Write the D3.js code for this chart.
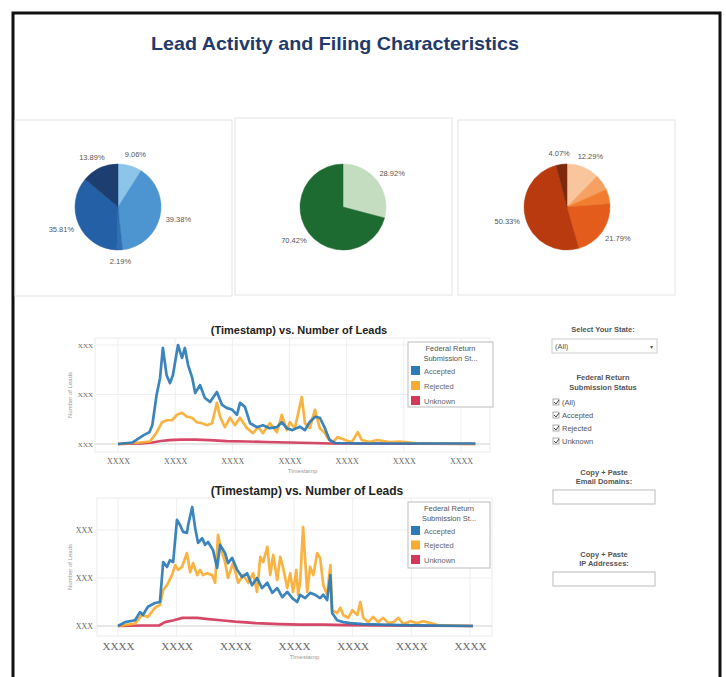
<!DOCTYPE html>
<html>
<head>
<meta charset="utf-8">
<script src="https://cdn.jsdelivr.net/npm/d3@7"></script>
<style>
  body { margin: 0; background: #fff; }
  svg { font-family: "Liberation Sans", Arial, sans-serif; }
</style>
</head>
<body>
<svg id="dash" width="726" height="677"></svg>
<script>
// Pie data (clockwise from 12 o'clock)
var pie1Values = [9.06, 39.38, 2.19, 35.81, 13.89];
var pie1Colors = ["#8dc4ea", "#4c95d0", "#2f6fb2", "#2360a6", "#1d3e70"];
var pie1Shown = [true, true, true, true, true];

var pie2Values = [28.92, 70.42];
var pie2Colors = ["#c4dcc0", "#1e6b32"];
var pie2Shown = [true, true];

var pie3Values = [12.29, 6.0, 5.52, 21.79, 50.33, 4.07];
var pie3Colors = ["#f8c59d", "#f6a163", "#f17e30", "#e35c1c", "#b93a0e", "#7d2a0c"];
var pie3Shown = [true, false, false, true, true, true];

// Line chart data: [day, number of leads]
var seriesNames = ["Accepted", "Rejected", "Unknown"];
var seriesColors = ["#2a7bb6", "#f8ad32", "#d3385b"];

var accepted1 = [[0,0],[5,3],[9,18],[11,24],[12,38],[13.5,99],[14.7,133],[15.7,194],[17,139],
  [18.2,123],[19.2,139],[21,200],[22.4,174],[23.4,194],[24.5,160],[26,133],[27,103],[28.7,119],
  [30.4,93],[32.2,85],[34.6,105],[36.4,79],[38,73],[40,69],[41.6,59],[42.7,83],[44.4,75],
  [46.2,42],[48.6,34],[50.7,38],[53,32],[55.6,34],[57.3,44],[59,32],[61,28],[63.6,35],
  [65.4,28],[67,44],[69,55],[70.6,53],[72.4,32],[74,8],[76,2],[85,1],[100,1],[115,1],[125,1]];
var rejected1 = [[0,0],[7.7,3],[11.2,5],[13.6,24],[15.4,44],[17.1,48],[18.9,48],[20.6,59],
  [22.4,63],[24.1,55],[25.9,53],[27.6,44],[29.4,42],[31.1,38],[32.9,42],[34.6,83],[35.7,55],
  [37.4,34],[39.2,53],[40.9,38],[42.7,53],[45.1,32],[47.2,22],[49,34],[50.7,22],[53.1,42],
  [55.6,24],[57.3,59],[59.1,28],[60.1,44],[61.9,32],[64.3,95],[65.4,42],[67.1,32],[68.9,69],
  [70.6,32],[72.4,22],[73.4,12],[75.2,4],[76.9,14],[79.4,8],[81.8,4],[83.9,24],[85.3,8],
  [88.1,4],[90.6,8],[95.1,4],[98.6,5],[102,3],[105.6,1],[109,1],[125,0]];
var unknown1 = [[0,0],[8,1],[12,3],[15,6],[18,8],[22,9],[27,9],[32,8],[38,6],[45,5],[52,4],
  [60,3],[68,2],[75,1],[85,1],[125,0]];

var accepted2 = [[0,0],[2.4,8],[5.8,12],[7.5,29],[8.5,23],[10.2,40],[12.6,48],[14.3,50],
  [15.4,133],[16.7,123],[17.7,137],[18.8,133],[20.1,221],[21.2,210],[22.2,196],[23.5,194],
  [23.9,210],[25.3,248],[26.3,204],[27.3,173],[28.7,183],[29.7,169],[30.7,175],[32.4,158],
  [33.8,121],[34.8,169],[36.5,152],[37.5,131],[38.9,142],[40.6,117],[42.3,102],[44,110],
  [45.7,85],[47.4,100],[49.1,79],[50.9,90],[52.6,69],[54.3,79],[56,60],[57.7,71],[59.4,58],
  [61.1,50],[62.1,65],[63.8,58],[65.5,69],[67.2,65],[68.9,58],[70,65],[71.3,54],[72.4,106],
  [73,27],[74.7,12],[76.8,8],[79.2,6],[83.6,4],[96.2,2],[121,0]];
var rejected2 = [[0,0],[5.8,5],[8.2,23],[10.2,19],[12.6,38],[14.3,44],[15.4,75],[16.7,85],
  [18.4,106],[19.5,127],[20.5,117],[21.8,123],[23.5,152],[24.6,112],[25.6,131],[27,106],
  [28,117],[29,106],[30.4,110],[32.1,106],[33.1,90],[34.1,190],[35.2,158],[36.5,133],[37.5,100],
  [39.2,131],[41,90],[42.7,106],[44.4,90],[46.1,110],[47.4,71],[48.5,144],[49.5,133],[50.9,165],
  [51.9,106],[52.9,148],[54.3,96],[55.3,144],[56.3,121],[57.7,79],[58.7,110],[59.7,71],
  [60.8,117],[61.4,65],[62.1,92],[63.1,206],[64.5,71],[65.5,123],[66.6,106],[67.9,152],
  [68.9,142],[70,85],[71.3,65],[72.4,127],[73,33],[74.7,27],[75.8,38],[76.8,23],[78.5,17],
  [79.9,33],[81.6,23],[82.6,50],[83.6,17],[85.3,8],[87,19],[88.7,8],[90.4,17],[92.2,6],
  [93.9,8],[95.6,17],[97.3,4],[99.7,10],[102,6],[104,10],[106.5,6],[108.9,2],[113,1],[121,0]];
var unknown2 = [[0,0],[8,1],[14,1],[16,8],[19,12],[22,17],[27,17],[30,15],[35,12],[40,9],
  [47,6],[55,4],[62,3],[70,3],[78,2],[90,1],[121,0]];

var xTickValues = [0, 20, 40, 60, 80, 100, 120];
var xTickLabels = ["XXXX", "XXXX", "XXXX", "XXXX", "XXXX", "XXXX", "XXXX"];
var yTickValues = [0, 100, 200];
var yTickLabels = ["XXX", "XXX", "XXX"];

var stateOptions = ["(All)"];
var statusOptions = ["(All)", "Accepted", "Rejected", "Unknown"];

var svg = d3.select("#dash");

///////////////////////////////////////////////////////////////////////////////
// Frame and title
///////////////////////////////////////////////////////////////////////////////

svg.append("rect")
  .attr("x", 13).attr("y", 13).attr("width", 707).attr("height", 680)
  .attr("fill", "none").attr("stroke", "#111").attr("stroke-width", 3);

svg.append("text")
  .attr("x", 335).attr("y", 50)
  .attr("text-anchor", "middle")
  .attr("font-size", 19).attr("font-weight", "bold")
  .attr("textLength", 368).attr("lengthAdjust", "spacingAndGlyphs")
  .attr("fill", "#1f3a6b")
  .text("Lead Activity and Filing Characteristics");

///////////////////////////////////////////////////////////////////////////////
// Pies
///////////////////////////////////////////////////////////////////////////////

function drawPie (panel, center, values, colors, shown) {
  svg.append("rect")
    .attr("x", panel[0]).attr("y", panel[1])
    .attr("width", panel[2]).attr("height", panel[3])
    .attr("fill", "none").attr("stroke", "#e4e4e4");

  var g = svg.append("g").attr("transform", "translate(" + center[0] + "," + center[1] + ")");
  var arcs = d3.pie().sort(null)(values);
  var arc = d3.arc().innerRadius(0).outerRadius(43);
  var labelArc = d3.arc().innerRadius(62).outerRadius(62);

  g.selectAll("path").data(arcs).enter().append("path")
    .attr("d", arc)
    .attr("fill", function (d, i) { return colors[i]; })
    .attr("stroke", function (d, i) { return colors[i]; })
    .attr("stroke-width", 0.5);

  g.selectAll("text").data(arcs.filter(function (d, i) { return shown[i]; }))
    .enter().append("text")
    .attr("transform", function (d) {
      var c = labelArc.centroid(d);
      // tableau keeps labels a little closer above/below the pie
      return "translate(" + c[0] + "," + (c[1] * 0.88) + ")";
    })
    .attr("text-anchor", "middle")
    .attr("dy", "0.35em")
    .attr("font-size", 7.5).attr("fill", "#555")
    .text(function (d) { return d3.format(".2f")(d.data) + "%"; });
}

drawPie([15, 120, 217, 176], [118, 207], pie1Values, pie1Colors, pie1Shown);
drawPie([235, 118, 217, 177], [343, 207], pie2Values, pie2Colors, pie2Shown);
drawPie([458, 120, 217, 175], [567, 207], pie3Values, pie3Colors, pie3Shown);

///////////////////////////////////////////////////////////////////////////////
// Line charts
///////////////////////////////////////////////////////////////////////////////

function drawLines (cfg) {
  var x = d3.scaleLinear().domain([0, 120]).range(cfg.xRange);
  var y = d3.scaleLinear().domain([0, 200]).range(cfg.yRange);
  var g = svg.append("g");

  // plot frame + grid
  g.append("rect")
    .attr("x", cfg.plot[0]).attr("y", cfg.plot[1])
    .attr("width", cfg.plot[2] - cfg.plot[0]).attr("height", cfg.plot[3] - cfg.plot[1])
    .attr("fill", "none").attr("stroke", "#ececec");

  g.selectAll(".vgrid").data(xTickValues).enter().append("line")
    .attr("x1", x).attr("x2", x)
    .attr("y1", cfg.plot[1]).attr("y2", cfg.plot[3])
    .attr("stroke", "#efefef");

  g.selectAll(".hgrid").data(yTickValues).enter().append("line")
    .attr("x1", cfg.plot[0]).attr("x2", cfg.plot[2])
    .attr("y1", y).attr("y2", y)
    .attr("stroke", function (d) { return d === 0 ? "#d0d0d0" : "#efefef"; });

  // axes (text only, tableau style)
  var xAxis = d3.axisBottom(x).tickValues(xTickValues).tickSize(0)
    .tickFormat(function (d, i) { return xTickLabels[i]; });
  var xg = g.append("g")
    .attr("transform", "translate(0," + cfg.xAxisY + ")")
    .call(xAxis);
  xg.select(".domain").remove();
  xg.selectAll("text")
    .attr("font-family", "'Liberation Serif', serif")
    .attr("font-size", cfg.xFont).attr("fill", "#666");

  var yAxis = d3.axisLeft(y).tickValues(yTickValues).tickSize(0)
    .tickFormat(function (d, i) { return yTickLabels[i]; });
  var yg = g.append("g")
    .attr("transform", "translate(" + cfg.yAxisX + ",0)")
    .call(yAxis);
  yg.select(".domain").remove();
  yg.selectAll("text")
    .attr("font-family", "'Liberation Serif', serif")
    .attr("font-size", cfg.yFont).attr("fill", "#666");

  g.append("text")
    .attr("x", (cfg.plot[0] + cfg.plot[2]) / 2 + 10).attr("y", cfg.xTitleY)
    .attr("text-anchor", "middle").attr("font-size", 6).attr("fill", "#999")
    .text("Timestamp");

  g.append("text")
    .attr("transform", "translate(" + cfg.yTitleX + "," + ((cfg.plot[1] + cfg.plot[3]) / 2) + ") rotate(-90)")
    .attr("text-anchor", "middle").attr("font-size", 6).attr("fill", "#999")
    .text("Number of Leads");

  g.append("text")
    .attr("x", cfg.titleX).attr("y", cfg.titleY)
    .attr("text-anchor", "middle")
    .attr("font-size", cfg.titleFont).attr("font-weight", "bold").attr("fill", "#222")
    .text("(Timestamp) vs. Number of Leads");

  // lines: unknown first, accepted on top
  var line = d3.line()
    .x(function (d) { return x(d[0]); })
    .y(function (d) { return y(d[1]); });
  [2, 1, 0].forEach(function (i) {
    g.append("path")
      .datum(cfg.series[i])
      .attr("d", line)
      .attr("fill", "none")
      .attr("stroke", seriesColors[i])
      .attr("stroke-width", 2.7)
      .attr("stroke-linejoin", "round")
      .attr("opacity", 0.92);
  });

  // legend
  var lg = g.append("g");
  lg.append("rect")
    .attr("x", cfg.legend[0]).attr("y", cfg.legend[1])
    .attr("width", cfg.legend[2]).attr("height", cfg.legend[3])
    .attr("fill", "#fff").attr("stroke", "#bbb");
  var cx = cfg.legend[0] + cfg.legend[2] / 2;
  lg.append("text").attr("x", cx).attr("y", cfg.legend[1] + 9)
    .attr("text-anchor", "middle").attr("font-size", 7.5).attr("fill", "#555")
    .text("Federal Return");
  lg.append("text").attr("x", cx).attr("y", cfg.legend[1] + 19)
    .attr("text-anchor", "middle").attr("font-size", 7.5).attr("fill", "#555")
    .text("Submission St...");
  seriesNames.forEach(function (name, i) {
    var ry = cfg.legend[1] + 24 + i * cfg.legendStep;
    lg.append("rect")
      .attr("x", cfg.legend[0] + 3).attr("y", ry)
      .attr("width", 9).attr("height", 9)
      .attr("fill", seriesColors[i]);
    lg.append("text")
      .attr("x", cfg.legend[0] + 16).attr("y", ry + 7.5)
      .attr("font-size", 7.5).attr("fill", "#666")
      .text(name);
  });
}

drawLines({
  series: [accepted1, rejected1, unknown1],
  xRange: [118, 461], yRange: [444, 345],
  plot: [95, 338, 490, 452],
  xAxisY: 455, xFont: 8, yAxisX: 96, yFont: 7,
  xTitleY: 473, yTitleX: 72,
  titleX: 299, titleY: 334, titleFont: 11,
  legend: [408, 342, 85, 65], legendStep: 15
});

drawLines({
  series: [accepted2, rejected2, unknown2],
  xRange: [118, 470], yRange: [626, 530],
  plot: [97, 498, 492, 636],
  xAxisY: 639, xFont: 11, yAxisX: 96, yFont: 8,
  xTitleY: 659, yTitleX: 72,
  titleX: 307, titleY: 495, titleFont: 12,
  legend: [408, 502, 82, 66], legendStep: 14.5
});

///////////////////////////////////////////////////////////////////////////////
// Filter panel
///////////////////////////////////////////////////////////////////////////////

var fp = svg.append("g").attr("font-size", 7.5).attr("fill", "#555");

fp.append("text").attr("x", 603).attr("y", 332)
  .attr("text-anchor", "middle").attr("font-weight", "bold")
  .text("Select Your State:");
fp.append("rect").attr("x", 552).attr("y", 339).attr("width", 105).attr("height", 14)
  .attr("fill", "#fff").attr("stroke", "#ccc");
fp.append("text").attr("x", 555).attr("y", 349).text(stateOptions[0]);
fp.append("text").attr("x", 650).attr("y", 349).attr("font-size", 6).text("\u25BE");

fp.append("text").attr("x", 603).attr("y", 380)
  .attr("text-anchor", "middle").attr("font-weight", "bold").text("Federal Return");
fp.append("text").attr("x", 603).attr("y", 390)
  .attr("text-anchor", "middle").attr("font-weight", "bold").text("Submission Status");

statusOptions.forEach(function (opt, i) {
  var yy = 405 + i * 13;
  fp.append("rect").attr("x", 553).attr("y", yy - 6).attr("width", 6).attr("height", 6)
    .attr("fill", "#fff").attr("stroke", "#888").attr("stroke-width", 0.7);
  fp.append("path")
    .attr("d", "M" + 554 + "," + (yy - 3) + " l2,2 l3,-4")
    .attr("fill", "none").attr("stroke", "#444").attr("stroke-width", 1);
  fp.append("text").attr("x", 562).attr("y", yy).text(opt);
});

fp.append("text").attr("x", 604).attr("y", 475)
  .attr("text-anchor", "middle").attr("font-weight", "bold").text("Copy + Paste");
fp.append("text").attr("x", 604).attr("y", 484)
  .attr("text-anchor", "middle").attr("font-weight", "bold").text("Email Domains:");
fp.append("rect").attr("x", 553).attr("y", 490).attr("width", 102).attr("height", 14)
  .attr("fill", "#fff").attr("stroke", "#bbb");

fp.append("text").attr("x", 604).attr("y", 557)
  .attr("text-anchor", "middle").attr("font-weight", "bold").text("Copy + Paste");
fp.append("text").attr("x", 604).attr("y", 566)
  .attr("text-anchor", "middle").attr("font-weight", "bold").text("IP Addresses:");
fp.append("rect").attr("x", 553).attr("y", 572).attr("width", 102).attr("height", 14)
  .attr("fill", "#fff").attr("stroke", "#bbb");
</script>
</body>
</html>
